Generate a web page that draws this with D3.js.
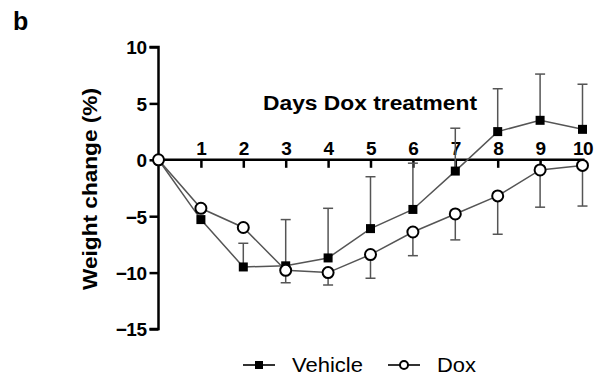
<!DOCTYPE html>
<html>
<head>
<meta charset="utf-8">
<script src="https://cdn.jsdelivr.net/npm/d3@7"></script>
<style>
  body { margin: 0; background: #fff; }
  text { font-family: "Liberation Sans", Arial, Helvetica, sans-serif; }
</style>
</head>
<body>
<script>
const svgWidth = 600
const svgHeight = 381

// data
const days = [0, 1, 2, 3, 4, 5, 6, 7, 8, 9, 10]
const vehicle = [0, -5.3, -9.5, -9.4, -8.7, -6.1, -4.4, -1.0, 2.5, 3.5, 2.7]
const vehicleUpper = [0, -5.3, -7.4, -5.3, -4.3, -1.5, -0.3, 2.8, 6.3, 7.6, 6.7]
const dox = [0, -4.3, -6.0, -9.8, -10.0, -8.4, -6.4, -4.8, -3.2, -0.9, -0.5]
const doxLower = [0, -4.3, -6.0, -10.9, -11.1, -10.5, -8.5, -7.1, -6.6, -4.2, -4.1]
const yTicks = [10, 5, 0, -5, -10, -15]
const xTicks = [1, 2, 3, 4, 5, 6, 7, 8, 9, 10]

const svg = d3.select("body").append("svg")
  .attr("width", svgWidth)
  .attr("height", svgHeight)

const x = d3.scaleLinear().domain([0, 10]).range([158.5, 582.5])
const y = d3.scaleLinear().domain([-15, 10]).range([329, 47])

// panel letter
svg.append("text")
  .attr("x", 13).attr("y", 30)
  .attr("font-size", 25).attr("font-weight", "bold")
  .text("b")

// y axis
const yAxis = d3.axisLeft(y).tickValues(yTicks).tickSize(9).tickPadding(3)
const yG = svg.append("g")
  .attr("transform", `translate(${x(0)},0)`)
  .call(yAxis)
yG.select(".domain").attr("stroke-width", 2.5).attr("d", `M-9,${y(10)}H0V${y(-15)}H-9`)
yG.selectAll(".tick line").attr("stroke-width", 2.5)
yG.selectAll(".tick text")
  .attr("dy", "0.36em")
  .attr("font-size", 19).attr("font-weight", "bold")
  .attr("font-family", "Liberation Sans, Arial, sans-serif")
  .attr("fill", "#000")
  .attr("letter-spacing", -0.5)

// x axis along zero
const xAxis = d3.axisBottom(x).tickValues(xTicks).tickSize(8)
const xG = svg.append("g")
  .attr("transform", `translate(0,${y(0)})`)
  .call(xAxis)
xG.select(".domain").attr("stroke-width", 2.5).attr("d", `M${x(0)},0H${x(10) + 2}`)
xG.selectAll(".tick line").attr("stroke-width", 2.5)
xG.selectAll(".tick text")
  .attr("y", -5).attr("dy", 0)
  .attr("font-size", 19).attr("font-weight", "bold")
  .attr("font-family", "Liberation Sans, Arial, sans-serif")
  .attr("fill", "#000")
  .attr("letter-spacing", -0.5)

svg.append("text")
  .attr("x", 263).attr("y", 110)
  .attr("font-size", 20).attr("font-weight", "bold")
  .attr("textLength", 214).attr("lengthAdjust", "spacingAndGlyphs")
  .text("Days Dox treatment")

svg.append("text")
  .attr("transform", "translate(97,290) rotate(-90)")
  .attr("font-size", 20).attr("font-weight", "bold")
  .attr("textLength", 202).attr("lengthAdjust", "spacingAndGlyphs")
  .text("Weight change (%)")

const plot = svg.append("g")

// error bars
const capW = 5
days.forEach((d, i) => {
  if (vehicleUpper[i] !== vehicle[i]) {
    plot.append("line")
      .attr("x1", x(d)).attr("x2", x(d))
      .attr("y1", y(vehicle[i])).attr("y2", y(vehicleUpper[i]))
      .attr("stroke", "#555").attr("stroke-width", 1.5)
    plot.append("line")
      .attr("x1", x(d) - capW).attr("x2", x(d) + capW)
      .attr("y1", y(vehicleUpper[i])).attr("y2", y(vehicleUpper[i]))
      .attr("stroke", "#555").attr("stroke-width", 1.5)
  }
  if (doxLower[i] !== dox[i]) {
    plot.append("line")
      .attr("x1", x(d)).attr("x2", x(d))
      .attr("y1", y(dox[i])).attr("y2", y(doxLower[i]))
      .attr("stroke", "#555").attr("stroke-width", 1.5)
    plot.append("line")
      .attr("x1", x(d) - capW).attr("x2", x(d) + capW)
      .attr("y1", y(doxLower[i])).attr("y2", y(doxLower[i]))
      .attr("stroke", "#555").attr("stroke-width", 1.5)
  }
})

const line = d3.line().x((v, i) => x(days[i])).y(v => y(v))

plot.append("path").datum(vehicle)
  .attr("d", line).attr("fill", "none")
  .attr("stroke", "#555").attr("stroke-width", 1.5)
plot.append("path").datum(dox)
  .attr("d", line).attr("fill", "none")
  .attr("stroke", "#555").attr("stroke-width", 1.5)

const sq = 9
plot.selectAll(".veh").data(vehicle).enter()
  .append("rect")
  .attr("x", (v, i) => x(days[i]) - sq / 2)
  .attr("y", v => y(v) - sq / 2)
  .attr("width", sq).attr("height", sq)
  .attr("fill", "#000")

plot.selectAll(".dox").data(dox).enter()
  .append("circle")
  .attr("cx", (v, i) => x(days[i]))
  .attr("cy", v => y(v))
  .attr("r", 5.5)
  .attr("fill", "#fff").attr("stroke", "#000").attr("stroke-width", 2)

// legend
const legend = svg.append("g").attr("transform", "translate(0,365)")
legend.append("line").attr("x1", 243).attr("x2", 275)
  .attr("stroke", "#333").attr("stroke-width", 2)
legend.append("rect").attr("x", 255).attr("y", -4).attr("width", 8).attr("height", 8)
  .attr("fill", "#000")
legend.append("text").attr("x", 292).attr("y", 7)
  .attr("font-size", 20)
  .attr("textLength", 71).attr("lengthAdjust", "spacingAndGlyphs")
  .text("Vehicle")
legend.append("line").attr("x1", 388).attr("x2", 420)
  .attr("stroke", "#333").attr("stroke-width", 2)
legend.append("circle").attr("cx", 404).attr("cy", 0).attr("r", 4)
  .attr("fill", "#fff").attr("stroke", "#000").attr("stroke-width", 2)
legend.append("text").attr("x", 437).attr("y", 7)
  .attr("font-size", 20)
  .attr("textLength", 39).attr("lengthAdjust", "spacingAndGlyphs")
  .text("Dox")
</script>
</body>
</html>
